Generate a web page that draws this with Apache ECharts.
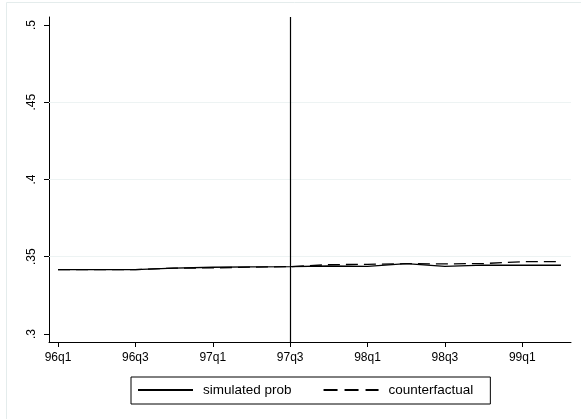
<!DOCTYPE html>
<html>
<head>
<meta charset="utf-8">
<script src="https://cdn.jsdelivr.net/npm/echarts@6/dist/echarts.min.js"></script>
<style>
html,body{margin:0;padding:0;background:#fff;}
#chart{width:581px;height:419px;}
</style>
</head>
<body>
<div id="chart"></div>
<script>
// Quarters 96q1 .. 99q2
const quarters = ["96q1","96q2","96q3","96q4","97q1","97q2","97q3","97q4","98q1","98q2","98q3","98q4","99q1","99q2"];
const simulated = [0.3417,0.3417,0.3417,0.3426,0.3432,0.3434,0.3436,0.3440,0.3438,0.3456,0.3438,0.3446,0.3445,0.3445];
const counterfactual = [0.3417,0.3417,0.3417,0.3426,0.3428,0.3433,0.3436,0.3449,0.3451,0.3455,0.3454,0.3456,0.3468,0.3468];
const yTicks = [0.3,0.35,0.4,0.45,0.5];
const yLabels = [".3",".35",".4",".45",".5"];
const yGrid = [0.35,0.4,0.45];
const xTickQuarters = ["96q1","96q3","97q1","97q3","98q1","98q3","99q1"];
const eventQuarter = "97q3";

const FONT = "'Liberation Sans', Arial, Helvetica, sans-serif";
const xTickIdx = xTickQuarters.map(q => quarters.indexOf(q));

const chart = echarts.init(document.getElementById('chart'), null, {renderer:'canvas'});
chart.setOption({
  animation: false,
  backgroundColor: '#ffffff',
  graphic: [{
    type: 'rect', silent: true, z: -10,
    shape: {x: 6.5, y: 2.5, width: 620, height: 460},
    style: {fill: 'none', stroke: '#e4ecec', lineWidth: 1}
  }],
  grid: {left: 49, top: 17, right: 10, bottom: 77, containLabel: false},
  xAxis: {
    type: 'value',
    min: -0.2326, max: 13.26,
    axisLine: {show: true, onZero: false, lineStyle: {color: '#000', width: 1}},
    axisTick: {show: true, length: 5, customValues: xTickIdx, lineStyle: {color: '#000'}},
    axisLabel: {
      customValues: xTickIdx, margin: 10,
      fontFamily: FONT, fontSize: 12, color: '#000',
      formatter: v => quarters[Math.round(v)]
    },
    splitLine: {show: false}
  },
  yAxis: {
    type: 'value',
    min: 0.29482, max: 0.50518,
    axisLine: {show: true, onZero: false, lineStyle: {color: '#000', width: 1}},
    axisTick: {show: true, length: 5, customValues: yTicks, lineStyle: {color: '#000'}},
    axisLabel: {
      customValues: yTicks, margin: 11, rotate: 90,
      fontFamily: FONT, fontSize: 12, color: '#000',
      formatter: v => { const i = yTicks.findIndex(t => Math.abs(t - v) < 1e-6); return i >= 0 ? yLabels[i] : ''; }
    },
    splitLine: {show: false}
  },
  legend: {
    left: 131, top: 377,
    orient: 'horizontal',
    padding: [6, 17, 7, 6],
    borderColor: '#000', borderWidth: 1,
    itemWidth: 55, itemHeight: 14, itemGap: 31,
    itemStyle: {color: 'rgba(0,0,0,0)', borderColor: 'rgba(0,0,0,0)', borderWidth: 0},
    textStyle: {fontFamily: FONT, fontSize: 13.5, color: '#000', padding: [0,0,0,5]},
    data: [
      {name: 'simulated prob'},
      {name: 'counterfactual', lineStyle: {type: [14, 7]}}
    ]
  },
  series: [
    {
      name: 'simulated prob', type: 'line',
      data: simulated.map((v, i) => [i, v]),
      showSymbol: false, symbol: 'none',
      lineStyle: {color: '#000', width: 1.3, type: 'solid'},
      itemStyle: {color: '#000'},
      z: 3,
      markLine: {
        silent: true, symbol: 'none', label: {show: false},
        animation: false,
        data: [
          ...yGrid.map(v => ({yAxis: v, lineStyle: {color: '#edf3f3', width: 1, type: 'solid'}})),
          {xAxis: quarters.indexOf(eventQuarter), lineStyle: {color: '#000', width: 1.2, type: 'solid'}}
        ]
      }
    },
    {
      name: 'counterfactual', type: 'line',
      data: counterfactual.map((v, i) => [i, v]),
      showSymbol: false, symbol: 'none',
      lineStyle: {color: '#000', width: 1.3, type: [12, 6]},
      itemStyle: {color: '#000'},
      z: 4
    }
  ]
});
</script>
</body>
</html>
